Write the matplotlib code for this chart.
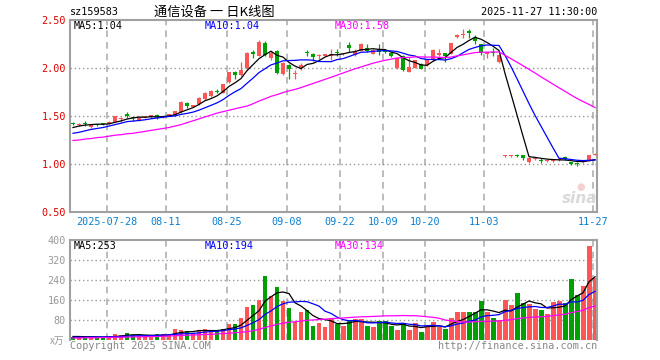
import numpy as np
import pandas as pd
import matplotlib
matplotlib.use('Agg')
import matplotlib.pyplot as plt

# 日K数据
opens = [1.43, 1.41, 1.43, 1.385, 1.415, 1.42, 1.42, 1.44, 1.47, 1.515,
         1.48, 1.45, 1.485, 1.485, 1.51, 1.49, 1.50, 1.51, 1.54, 1.64,
         1.595, 1.62, 1.68, 1.71, 1.76, 1.74, 1.85, 1.96, 1.93, 2.00,
         2.17, 2.13, 2.265, 2.10, 2.18, 1.935, 2.03, 1.94, 2.00, 2.165,
         2.15, 2.12, 2.13, 2.12, 2.165, 2.145, 2.24, 2.135, 2.18, 2.205,
         2.15, 2.20, 2.175, 2.16, 2.00, 2.13, 1.96, 2.005, 2.04, 2.03,
         2.08, 2.14, 2.155, 2.15, 2.32, 2.34, 2.385, 2.31, 2.25, 2.145,
         2.165, 2.06, 1.08, 1.08, 1.085, 1.094, 1.025, 1.05, 1.04, 1.035,
         1.03, 1.045, 1.076, 1.024, 1.005, 1.02, 1.04, 1.095]
highs = [1.44, 1.43, 1.45, 1.41, 1.42, 1.43, 1.445, 1.50, 1.49, 1.54,
         1.49, 1.49, 1.50, 1.51, 1.52, 1.50, 1.525, 1.555, 1.66, 1.65,
         1.615, 1.70, 1.75, 1.77, 1.78, 1.83, 1.96, 1.97, 2.06, 2.17,
         2.19, 2.29, 2.28, 2.18, 2.19, 2.06, 2.04, 1.98, 2.05, 2.19,
         2.155, 2.15, 2.15, 2.20, 2.195, 2.16, 2.27, 2.20, 2.26, 2.25,
         2.20, 2.25, 2.19, 2.17, 2.10, 2.14, 2.11, 2.085, 2.05, 2.09,
         2.20, 2.195, 2.16, 2.26, 2.35, 2.41, 2.405, 2.345, 2.255, 2.17,
         2.205, 2.14, 1.095, 1.09, 1.10, 1.095, 1.07, 1.06, 1.06, 1.045,
         1.04, 1.06, 1.08, 1.025, 1.025, 1.045, 1.095, 1.115]
lows = [1.41, 1.40, 1.40, 1.37, 1.40, 1.41, 1.415, 1.435, 1.44, 1.48,
        1.45, 1.445, 1.48, 1.48, 1.47, 1.48, 1.495, 1.505, 1.53, 1.585,
        1.59, 1.615, 1.67, 1.70, 1.735, 1.735, 1.84, 1.89, 1.92, 1.99,
        2.10, 2.12, 2.13, 2.08, 1.94, 1.93, 1.89, 1.89, 1.98, 2.13,
        2.075, 2.09, 2.12, 2.085, 2.125, 2.14, 2.17, 2.125, 2.175, 2.17,
        2.145, 2.135, 2.155, 2.11, 1.99, 1.97, 1.955, 2.00, 1.985, 2.025,
        2.075, 2.125, 2.065, 2.145, 2.31, 2.31, 2.31, 2.255, 2.14, 2.10,
        2.12, 2.05, 1.075, 1.075, 1.07, 1.045, 1.015, 1.045, 1.015, 1.025,
        1.025, 1.03, 1.045, 0.985, 0.975, 1.01, 1.035, 1.09]
closes = [1.42, 1.42, 1.42, 1.405, 1.41, 1.415, 1.44, 1.50, 1.48, 1.505,
          1.475, 1.485, 1.49, 1.51, 1.49, 1.495, 1.52, 1.55, 1.65, 1.605,
          1.61, 1.69, 1.74, 1.76, 1.75, 1.83, 1.96, 1.93, 1.98, 2.16,
          2.145, 2.27, 2.14, 2.16, 1.945, 2.055, 1.99, 1.95, 2.03, 2.16,
          2.11, 2.13, 2.14, 2.15, 2.16, 2.155, 2.205, 2.18, 2.25, 2.18,
          2.19, 2.17, 2.17, 2.12, 2.10, 1.98, 2.01, 2.08, 1.99, 2.08,
          2.19, 2.16, 2.12, 2.26, 2.34, 2.355, 2.36, 2.285, 2.16, 2.17,
          2.16, 2.135, 1.09, 1.085, 1.08, 1.06, 1.065, 1.055, 1.035, 1.04,
          1.035, 1.05, 1.05, 1.0, 1.0, 1.025, 1.094, 1.10]
# 成交量 (万手)
volumes = [13, 11, 16, 11, 11, 11, 13, 24, 20, 28,
           19, 16, 16, 16, 24, 24, 19, 44, 40, 36,
           29, 40, 44, 40, 35, 45, 64, 64, 89, 132,
           140, 160, 256, 176, 212, 156, 128, 72, 112, 120,
           56, 68, 52, 88, 64, 56, 80, 84, 84, 56,
           52, 76, 76, 56, 40, 68, 40, 68, 32, 60,
           72, 52, 44, 88, 112, 112, 112, 112, 156, 112,
           88, 80, 160, 140, 188, 148, 144, 124, 120, 104,
           152, 156, 148, 244, 180, 216, 376, 248]

# 窗口开头的均线值 (依赖窗口外的历史数据, 直接读图)
ma5_head = [1.38, 1.395, 1.405, 1.41]
ma10_head = [1.32, 1.33, 1.345, 1.36, 1.37, 1.38, 1.395, 1.41, 1.425]
ma30_head = [1.245, 1.25, 1.26, 1.265, 1.275, 1.28, 1.29, 1.30, 1.305, 1.315,
             1.32, 1.33, 1.34, 1.35, 1.36, 1.37, 1.38, 1.395, 1.41, 1.43,
             1.45, 1.47, 1.49, 1.51, 1.53, 1.545, 1.56, 1.575, 1.59]
vma5_head = [14, 14, 13, 13]
vma10_head = [11, 11, 11, 12, 12, 12, 13, 13, 14]
vma30_head = [8, 8, 9, 9, 9, 10, 10, 11, 11, 12, 12, 13, 13, 14, 14,
              15, 16, 17, 18, 19, 20, 21, 22, 23, 24, 26, 27, 29, 31]

tick_pos = [5.67, 15.5, 25.67, 35.67, 44.5, 51.67, 58.67, 68.5, 86.67]
tick_labels = ['2025-07-28', '08-11', '08-25', '09-08', '09-22',
               '10-09', '10-20', '11-03', '11-27']

RED = '#ff5555'
GREEN = '#00a000'
MONO = 'DejaVu Sans Mono'
W, H = 660, 360


def ma(values, n, head):
    s = pd.Series(values, dtype=float).rolling(n).mean().to_numpy()
    s[:len(head)] = head
    return s


def fxy(x, y):
    return x / W, 1 - y / H


def style_axes(ax):
    for side in ('left', 'top', 'right', 'bottom'):
        ax.spines[side].set_color('#a0a0a0')
        ax.spines[side].set_linewidth(1.5)
    ax.tick_params(length=0)
    for p in tick_pos:
        ax.axvline(p, color='#b0b0b0', lw=1.2, ls=(0, (4, 3)), zorder=0)


fig = plt.figure(figsize=(6.6, 3.6), dpi=100)
ax = fig.add_axes([70 / W, 1 - 212 / H, 527 / W, 192 / H])
axv = fig.add_axes([70 / W, 1 - 340 / H, 527 / W, 100 / H])

x = np.arange(len(closes))
o = np.array(opens)
c = np.array(closes)
colors = [RED if cc >= oo else GREEN for oo, cc in zip(o, c)]

# K线
style_axes(ax)
for yv in (1.0, 1.5, 2.0):
    ax.axhline(yv, color='#999999', lw=1, ls=(0, (1, 2)), zorder=0)
ax.vlines(x, lows, highs, colors=colors, lw=0.9, zorder=2)
body_lo = np.minimum(o, c)
body_h = np.maximum(np.abs(c - o), 0.011)
ax.bar(x, body_h, bottom=body_lo, width=0.72, color=colors, zorder=3)
ax.plot(x, ma(closes, 5, ma5_head), color='black', lw=0.9, zorder=4)
ax.plot(x, ma(closes, 10, ma10_head), color='#0000ff', lw=0.9, zorder=4)
ax.plot(x, ma(closes, 30, ma30_head), color='#ff00ff', lw=0.9, zorder=4)
ax.set_xlim(-0.5, 87.33)
ax.set_ylim(0.5, 2.5)
ax.set_yticks([0.5, 1.0, 1.5, 2.0, 2.5])
ax.set_yticklabels(['0.50', '1.00', '1.50', '2.00', '2.50'],
                   family=MONO, fontsize=7.3, color='#e00000')
ax.set_xticks(tick_pos)
ax.set_xticklabels(tick_labels, family=MONO, fontsize=7.3, color='#0a7fd0')
ax.tick_params(axis='y', pad=3)
ax.tick_params(axis='x', pad=3.5)

# 成交量
style_axes(axv)
axv.spines['bottom'].set_visible(False)
for yv in (80, 160, 240, 320):
    axv.axhline(yv, color='#999999', lw=1, ls=(0, (1, 2)), zorder=0)
axv.bar(x, volumes, width=0.83, color=colors, zorder=2)
axv.plot(x, ma(volumes, 5, vma5_head), color='black', lw=0.9, zorder=4)
axv.plot(x, ma(volumes, 10, vma10_head), color='#0000ff', lw=0.9, zorder=4)
axv.plot(x, ma(volumes, 30, vma30_head), color='#ff00ff', lw=0.9, zorder=4)
axv.set_xlim(-0.5, 87.33)
axv.set_ylim(0, 400)
axv.set_xticks([])
axv.set_yticks([80, 160, 240, 320, 400])
axv.set_yticklabels(['80', '160', '240', '320', '400'],
                    family=MONO, fontsize=7.3, color='#999999')
axv.tick_params(axis='y', pad=3)

# 文字
fs = 7.3
fig.text(*fxy(70, 12), 'sz159583', ha='left', va='center', family=MONO, fontsize=fs)
fig.text(*fxy(214, 12.5), '通信设备 一 日K线图', ha='center', va='center',
         family=['Noto Sans CJK SC', 'DejaVu Sans'], fontsize=9.5)
fig.text(*fxy(597, 12), '2025-11-27 11:30:00', ha='right', va='center', family=MONO, fontsize=fs)

fig.text(*fxy(74, 26), 'MA5:1.04', ha='left', va='center', family=MONO, fontsize=fs, color='black')
fig.text(*fxy(205, 26), 'MA10:1.04', ha='left', va='center', family=MONO, fontsize=fs, color='#0000ff')
fig.text(*fxy(335, 26), 'MA30:1.58', ha='left', va='center', family=MONO, fontsize=fs, color='#ff00ff')
fig.text(*fxy(74, 246), 'MA5:253', ha='left', va='center', family=MONO, fontsize=fs, color='black')
fig.text(*fxy(205, 246), 'MA10:194', ha='left', va='center', family=MONO, fontsize=fs, color='#0000ff')
fig.text(*fxy(335, 246), 'MA30:134', ha='left', va='center', family=MONO, fontsize=fs, color='#ff00ff')

fig.text(*fxy(64, 341), 'x万', ha='right', va='center',
         family=['Noto Sans CJK SC', 'DejaVu Sans'], fontsize=7, color='#999999')
fig.text(*fxy(70, 346), 'Copyright 2025 SINA.COM', ha='left', va='center',
         family=MONO, fontsize=fs, color='#888888')
fig.text(*fxy(597, 346), 'http://finance.sina.com.cn', ha='right', va='center',
         family=MONO, fontsize=fs, color='#888888')

# 水印
fig.text(*fxy(597, 198), 'sina', ha='right', va='center', fontsize=11,
         style='italic', weight='bold', color='#d9d9d9', zorder=1)
fig.text(*fxy(581, 187), '●', ha='center', va='center', fontsize=7,
         color='#f6d0d0', zorder=1)

fig.savefig('out.png', dpi=100)
